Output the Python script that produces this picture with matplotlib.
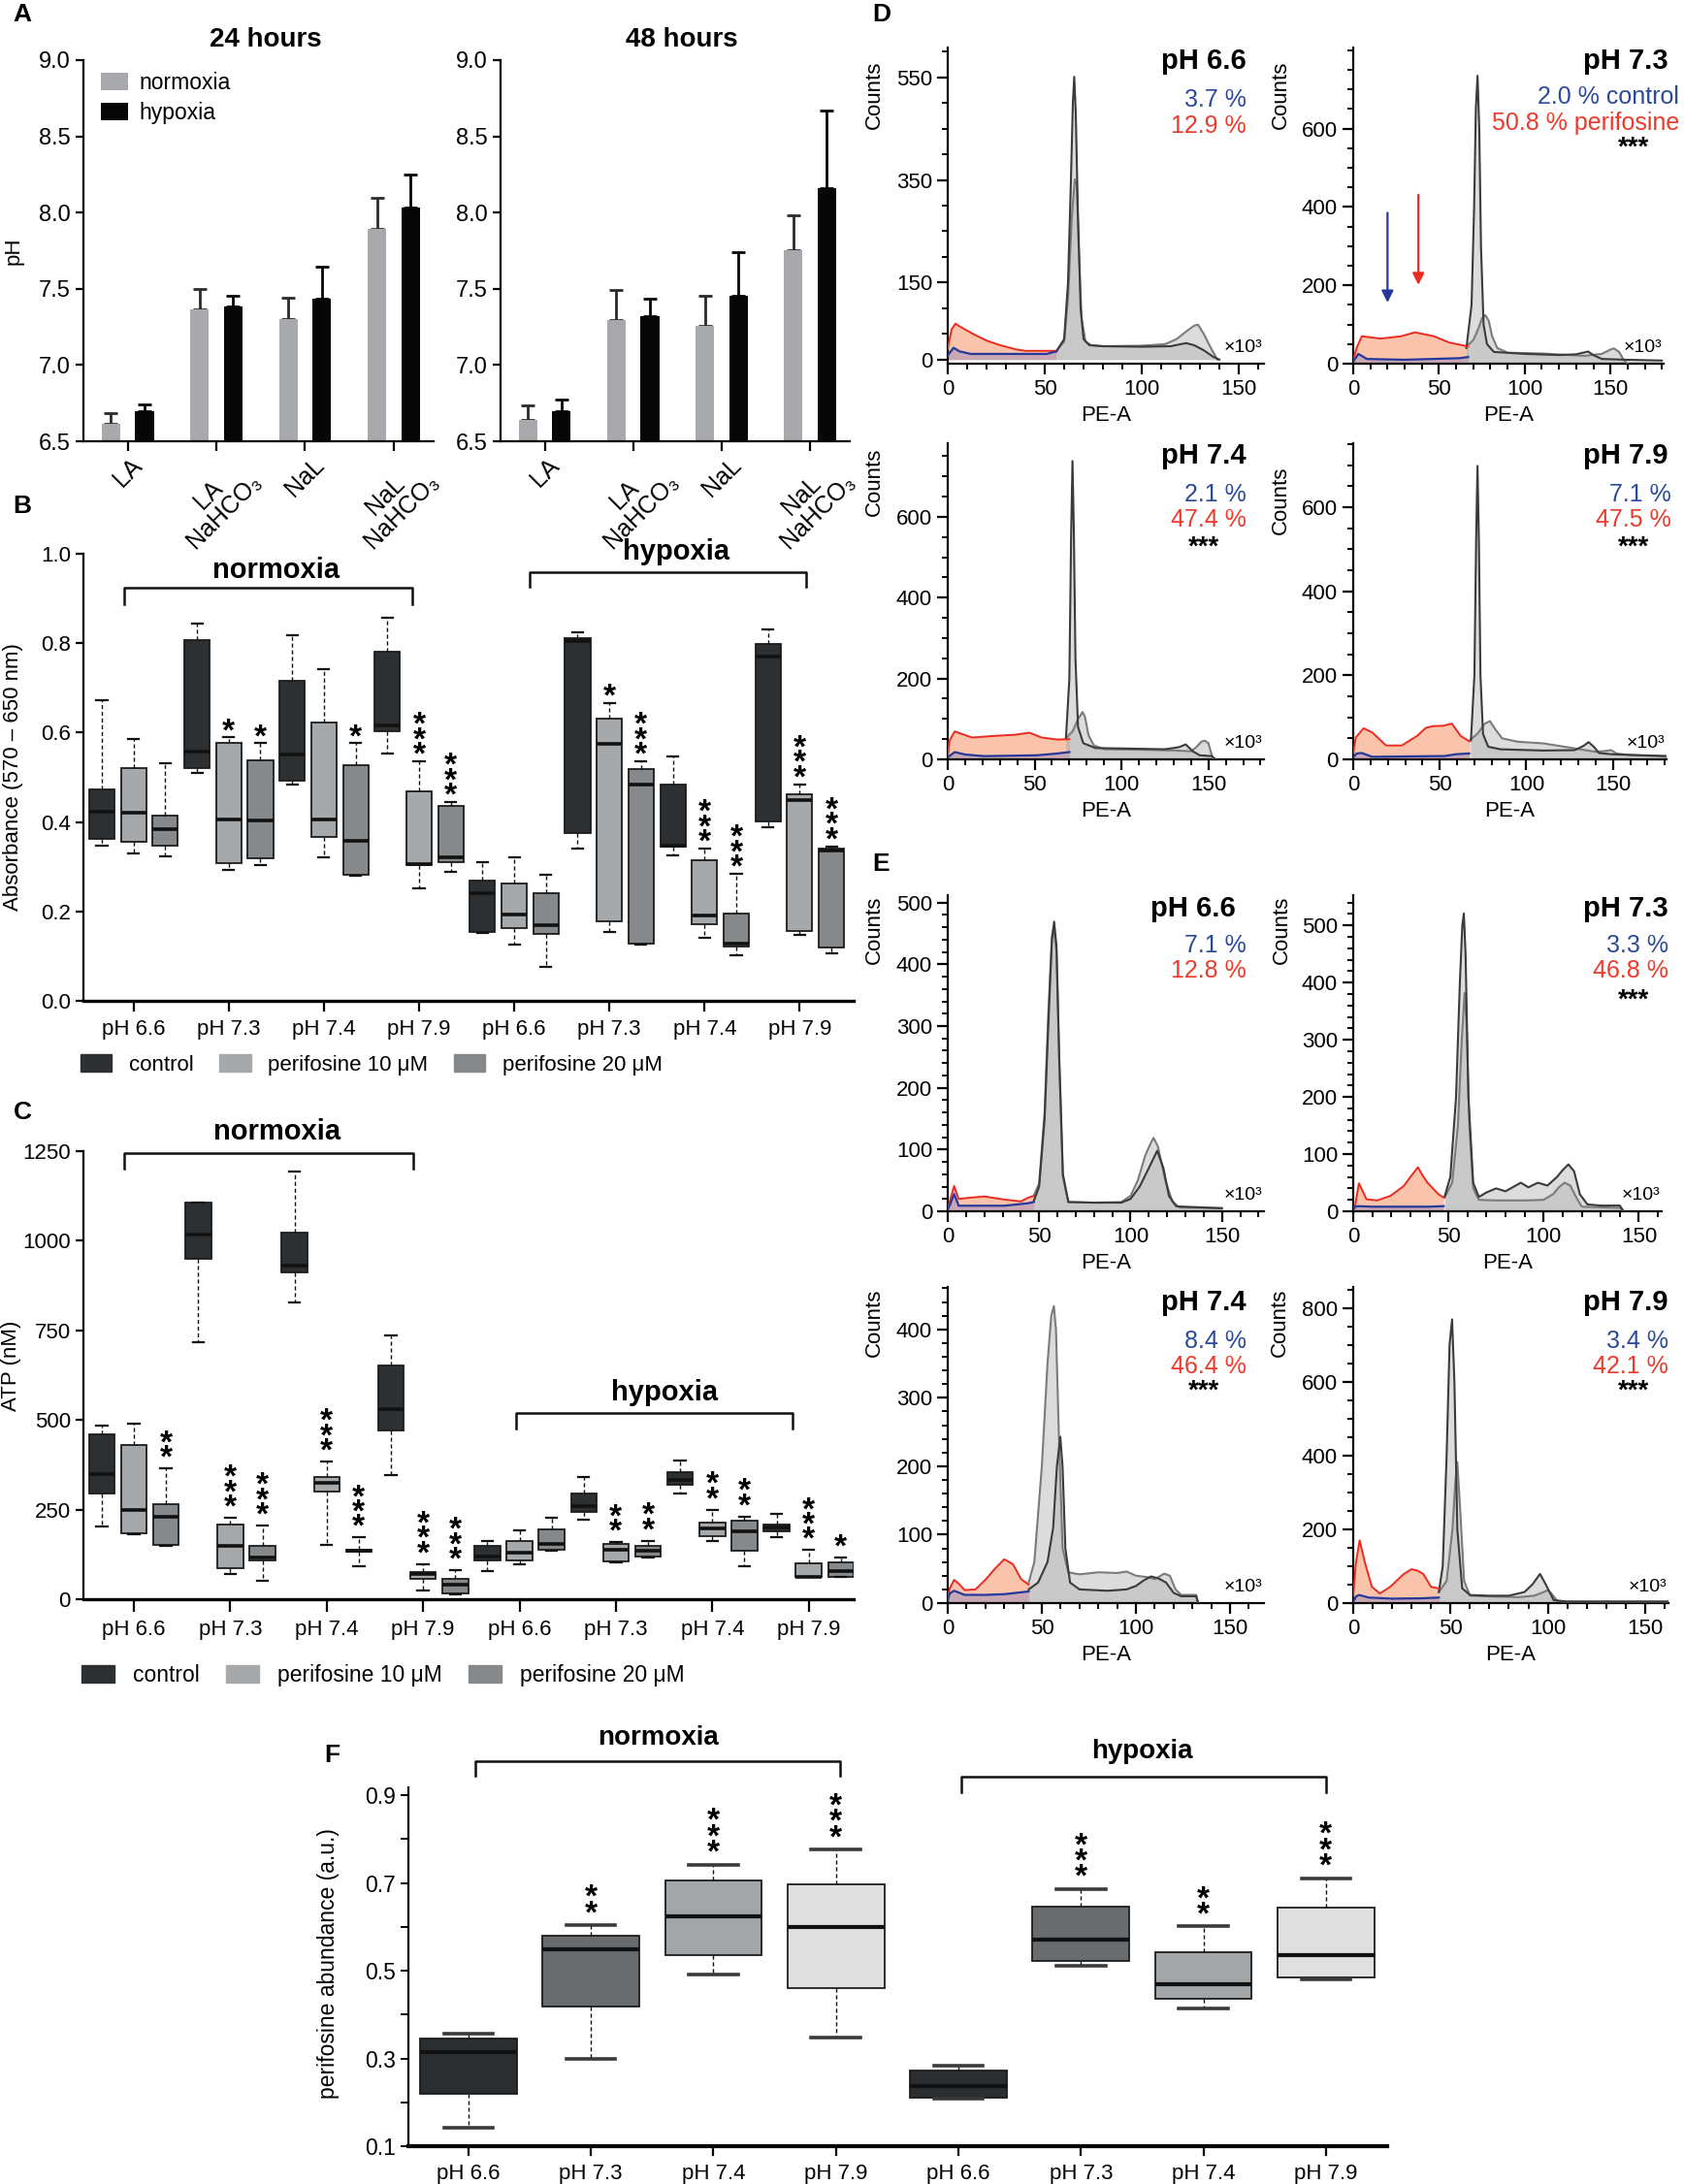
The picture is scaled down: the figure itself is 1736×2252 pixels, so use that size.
import matplotlib
matplotlib.use("Agg")
import matplotlib.pyplot as plt
from matplotlib.patches import Patch
from matplotlib.ticker import MultipleLocator, FormatStrFormatter
import numpy as np

plt.rcParams["font.family"] = ["Liberation Sans", "DejaVu Sans"]
plt.rcParams["font.size"] = 16
plt.rcParams["axes.linewidth"] = 1.6
plt.rcParams["xtick.major.width"] = 1.6
plt.rcParams["ytick.major.width"] = 1.6

W, H = 1736, 2252

# ---------------- panel A : medium pH ----------------
a_groups = ["LA", "LA\nNaHCO₃", "NaL", "NaL\nNaHCO₃"]
a24_norm = [6.614, 7.362, 7.300, 7.890]
a24_norm_err = [0.072, 0.136, 0.139, 0.206]
a24_hyp = [6.697, 7.384, 7.436, 8.035]
a24_hyp_err = [0.046, 0.072, 0.209, 0.215]
a48_norm = [6.643, 7.296, 7.257, 7.752]
a48_norm_err = [0.094, 0.195, 0.195, 0.228]
a48_hyp = [6.700, 7.322, 7.452, 8.162]
a48_hyp_err = [0.075, 0.112, 0.291, 0.505]

# ---------------- panel B : absorbance ----------------
ph_labels = ["pH 6.6", "pH 7.3", "pH 7.4", "pH 7.9"] * 2
treatments = ["control", "perifosine 10 μM", "perifosine 20 μM"]
b_whishi = [0.673, 0.585, 0.531, 0.843, 0.589, 0.576, 0.818, 0.742, 0.576, 0.856, 0.535, 0.444,
            0.310, 0.322, 0.283, 0.825, 0.667, 0.535, 0.546, 0.340, 0.284, 0.831, 0.484, 0.345]
b_q3 = [0.472, 0.520, 0.415, 0.807, 0.576, 0.539, 0.716, 0.622, 0.527, 0.780, 0.469, 0.436,
        0.270, 0.262, 0.240, 0.812, 0.632, 0.518, 0.483, 0.314, 0.196, 0.798, 0.461, 0.340]
b_med = [0.423, 0.420, 0.384, 0.558, 0.405, 0.403, 0.551, 0.406, 0.359, 0.616, 0.305, 0.322,
         0.240, 0.192, 0.169, 0.805, 0.574, 0.484, 0.348, 0.190, 0.127, 0.771, 0.450, 0.337]
b_q1 = [0.363, 0.355, 0.347, 0.520, 0.307, 0.318, 0.492, 0.367, 0.283, 0.602, 0.304, 0.311,
        0.154, 0.163, 0.149, 0.375, 0.177, 0.129, 0.344, 0.171, 0.122, 0.401, 0.157, 0.119]
b_whislo = [0.346, 0.329, 0.323, 0.509, 0.292, 0.304, 0.483, 0.322, 0.279, 0.554, 0.251, 0.289,
            0.151, 0.125, 0.076, 0.340, 0.155, 0.126, 0.326, 0.141, 0.101, 0.388, 0.147, 0.107]
b_stars = [0, 0, 0, 0, 1, 1, 0, 0, 1, 0, 3, 3, 0, 0, 0, 0, 1, 3, 0, 3, 3, 0, 3, 3]

# ---------------- panel C : ATP ----------------
c_whishi = [484, 491, 365, 1107, 227, 205, 1192, 384, 172, 737, 98, 81,
            161, 191, 228, 341, 159, 163, 386, 250, 231, 237, 137, 116]
c_q3 = [459, 431, 265, 1107, 207, 150, 1024, 342, 138, 652, 76, 56,
        148, 163, 194, 295, 153, 150, 355, 215, 218, 208, 101, 103]
c_med = [350, 248, 231, 1016, 150, 117, 930, 324, 135, 531, 69, 40,
         118, 129, 154, 259, 139, 134, 332, 197, 190, 200, 63, 79]
c_q1 = [295, 185, 151, 951, 87, 109, 913, 299, 132, 472, 56, 15,
        108, 108, 139, 243, 105, 119, 320, 175, 135, 189, 62, 63]
c_whislo = [203, 182, 149, 716, 70, 52, 829, 151, 93, 346, 25, 13,
            78, 97, 136, 221, 103, 115, 295, 163, 92, 172, 62, 63]
c_stars = [0, 0, 2, 0, 3, 3, 0, 3, 3, 0, 3, 3, 0, 0, 0, 0, 2, 2, 0, 2, 2, 0, 3, 1]

# ---------------- panel F : perifosine abundance ----------------
f_whishi = [0.357, 0.604, 0.742, 0.776, 0.283, 0.686, 0.601, 0.711]
f_q3 = [0.345, 0.579, 0.706, 0.698, 0.273, 0.645, 0.542, 0.644]
f_med = [0.314, 0.548, 0.625, 0.599, 0.237, 0.572, 0.470, 0.535]
f_q1 = [0.220, 0.419, 0.536, 0.461, 0.210, 0.523, 0.436, 0.484]
f_whislo = [0.141, 0.298, 0.491, 0.348, 0.209, 0.511, 0.415, 0.481]
f_stars = [0, 2, 3, 3, 0, 3, 2, 3]

# ---------------- panels D / E : cell cycle histograms (PE-A x10^3, counts) ----------------
d66_red = ([0, 2, 4, 6, 13, 20, 27, 35, 40, 56], [22, 59, 70, 65, 50, 37, 28, 20, 17, 17])
d66_blue = ([0, 3, 6, 12, 51, 56], [8, 23, 16, 11, 11, 16])
d66_ctrl = ([56, 60, 62, 63.5, 64.5, 65.2, 66, 67, 68.5, 70, 73, 80, 100, 115, 120, 123, 127, 132, 137, 140],
            [16, 40, 150, 350, 500, 551, 480, 300, 100, 40, 28, 26, 25, 26, 30, 32, 28, 18, 5, 0])
d66_peri = ([56, 60, 62, 64, 65.5, 66.5, 67.5, 69, 71, 74, 80, 100, 112, 118, 123, 127, 129, 132, 136, 139],
            [17, 35, 120, 280, 351, 340, 220, 80, 35, 28, 26, 27, 30, 40, 55, 66, 68, 50, 20, 0])

d73_red = ([0, 2, 5, 16, 28, 36, 47, 56, 67], [10, 40, 70, 64, 70, 80, 70, 54, 44])
d73_blue = ([0, 3, 8, 30, 62, 67], [5, 25, 12, 10, 14, 17])
d73_ctrl = ([66, 69, 70.5, 71.5, 72.5, 73.5, 74.5, 76, 78, 82, 100, 120, 130, 134, 137, 140, 145, 160, 180],
            [40, 150, 400, 650, 735, 600, 300, 100, 50, 30, 25, 22, 24, 28, 31, 22, 12, 10, 8])
d73_peri = ([66, 70, 73, 75, 77, 79, 81, 84, 90, 110, 135, 145, 150, 152, 155, 158, 160],
            [44, 60, 90, 115, 124, 110, 70, 40, 28, 26, 20, 25, 36, 39, 30, 8, 0])

d74_red = ([0, 1, 4, 14, 27, 39, 47, 54, 63, 70], [10, 46, 69, 54, 58, 61, 66, 54, 49, 50])
d74_blue = ([0, 4, 10, 21, 51, 62, 70], [5, 18, 12, 8, 10, 14, 18])
d74_ctrl = ([68, 70, 71, 71.8, 72.6, 73.5, 75, 78, 85, 100, 125, 133, 137, 141, 145, 152, 154],
            [50, 200, 550, 738, 560, 250, 80, 40, 28, 27, 25, 30, 37, 20, 10, 8, 0])
d74_peri = ([68, 72, 75, 77.6, 79, 81, 84, 90, 110, 130, 140, 143, 146, 148, 150, 152, 153],
            [52, 70, 100, 117, 105, 60, 35, 25, 24, 22, 20, 30, 44, 46, 40, 10, 0])

d79_red = ([0, 1.5, 6, 11, 19, 28, 37, 42, 46, 52, 57, 62, 67], [15, 52, 74, 64, 33, 33, 56, 75, 79, 80, 85, 56, 43])
d79_blue = ([0, 2, 5, 11, 53, 59, 67], [5, 14, 15, 6, 8, 12, 14])
d79_ctrl = ([68, 70, 71, 71.8, 72.6, 73.5, 75, 78, 85, 110, 128, 133, 136, 139, 142, 150, 165, 181],
            [45, 200, 520, 698, 520, 200, 60, 30, 24, 21, 22, 32, 41, 30, 15, 12, 10, 8])
d79_peri = ([67, 72, 76, 79, 82, 86, 95, 110, 125, 140, 146, 149, 152, 160, 175, 181],
            [44, 62, 85, 91, 72, 50, 42, 38, 28, 18, 20, 22, 14, 10, 8, 6])

e66_red = ([0, 1, 3.5, 6, 12, 20, 31, 40, 44, 47], [5, 15, 41, 20, 22, 24, 19, 16, 22, 25])
e66_blue = ([0, 1, 3.5, 6, 31, 44, 47], [3, 9, 28, 9, 9, 13, 15])
e66_ctrl = ([47, 50, 53, 55, 57, 58.2, 59.5, 61, 63, 66, 80, 95, 100, 105, 110, 114.6, 118, 121, 125, 150],
            [16, 40, 150, 300, 440, 469, 430, 250, 60, 15, 14, 14, 20, 40, 70, 98, 70, 25, 8, 5])
e66_peri = ([47, 50, 53, 55, 57, 58, 59.5, 61, 63, 66, 80, 95, 100, 104, 108, 111, 112.6, 115, 119, 123, 127, 150],
            [25, 45, 160, 320, 445, 460, 420, 240, 55, 15, 14, 15, 25, 50, 90, 110, 119, 105, 50, 15, 6, 5])

e73_red = ([0, 1, 3, 7, 12.6, 19.6, 26.5, 30, 34, 36, 39, 44.7, 47.5], [5, 10, 49, 21, 19, 27, 44, 60, 77, 65, 50, 30, 24])
e73_blue = ([0, 1, 3, 10, 40, 47.5], [3, 8, 9, 8, 8, 9])
e73_ctrl = ([48, 51, 54, 56, 57.3, 58.1, 59, 60.5, 63, 66, 70, 75, 80, 88, 92, 97, 102, 107, 110, 113, 116, 119, 123, 130, 140, 142],
            [26, 60, 200, 400, 500, 521, 450, 200, 50, 25, 33, 40, 35, 50, 42, 50, 45, 60, 72, 82, 70, 30, 12, 10, 10, 0])
e73_peri = ([48, 52, 55, 57, 58.5, 59.5, 61, 63, 66, 75, 90, 100, 105, 108, 111, 114, 117, 120, 130, 140, 142],
            [24, 50, 150, 300, 382, 330, 150, 40, 20, 19, 19, 20, 30, 42, 50, 45, 25, 8, 7, 6, 0])

e74_red = ([0, 1, 3.4, 6, 9, 14.7, 20, 25, 30, 34.6, 39, 43], [8, 21, 34, 28, 19, 20, 34, 50, 64, 57, 35, 27])
e74_blue = ([0, 1, 3.4, 9, 20, 30, 43], [4, 14, 18, 12, 12, 13, 17])
e74_ctrl = ([43, 48, 53, 56, 58, 59.8, 61, 62.5, 65, 70, 85, 95, 100, 104, 108, 112, 116, 120, 124, 132, 133],
            [20, 30, 60, 110, 200, 243, 200, 80, 30, 20, 18, 20, 25, 33, 39, 36, 30, 15, 10, 10, 0])
e74_peri = ([43, 46, 50, 53, 55, 56.4, 57.5, 59, 61, 64, 70, 80, 90, 95, 100, 106, 110, 115, 118, 121, 124, 132, 133],
            [30, 60, 200, 350, 420, 434, 400, 250, 80, 45, 42, 45, 44, 46, 40, 38, 35, 43, 40, 20, 12, 12, 0])

e79_red = ([0, 1.4, 3.3, 6, 9.6, 13.7, 19, 26, 30, 33, 36, 40, 44], [20, 110, 170, 110, 44, 26, 44, 79, 92, 88, 79, 44, 40])
e79_blue = ([0, 1.5, 3, 8, 20, 35, 44], [4, 18, 22, 15, 12, 13, 15])
e79_ctrl = ([44, 46, 48, 49.5, 50.8, 52, 53.5, 56, 60, 70, 80, 88, 92, 96, 99, 103, 110, 162],
            [30, 100, 400, 700, 769, 600, 200, 40, 22, 20, 20, 30, 50, 79, 50, 8, 4, 4])
e79_peri = ([44, 48, 51, 52.5, 53.5, 55, 57, 60, 70, 85, 93, 97, 100, 102, 105, 110, 162],
            [30, 60, 200, 330, 382, 250, 60, 20, 18, 16, 20, 28, 35, 25, 5, 4, 4])

hist_titles = ["pH 6.6", "pH 7.3", "pH 7.4", "pH 7.9"]
d_ctrl_pct = ["3.7 %", "2.0 % control", "2.1 %", "7.1 %"]
d_peri_pct = ["12.9 %", "50.8 % perifosine", "47.4 %", "47.5 %"]
e_ctrl_pct = ["7.1 %", "3.3 %", "8.4 %", "3.4 %"]
e_peri_pct = ["12.8 %", "46.8 %", "46.4 %", "42.1 %"]
hist_sig = ["", "***", "***", "***"]
arrow_x = [20, 38]
arrow_top = [392, 438]
arrow_tip = [149, 194]

# ---------------- colours ----------------
NORM_C, HYP_C = "#a7a9ac", "#060606"
TREAT_C = ["#2d3032", "#a6a9ac", "#86898b"]
F_C = ["#2b2e30", "#696c6e", "#a3a6a8", "#e0e0e0"]
BLUE_T, RED_T = "#2c4a9a", "#ec3a2b"

fig = plt.figure(figsize=(W / 100, H / 100), dpi=100)
fig.patch.set_facecolor("white")


def px_axes(x0, y0, x1, y1):
    return fig.add_axes([x0 / W, 1 - y1 / H, (x1 - x0) / W, (y1 - y0) / H])


def clean(ax):
    ax.spines["top"].set_visible(False)
    ax.spines["right"].set_visible(False)


def add_stars(ax, xs, tops, counts, gap, spacing, fs):
    # one text per stack: stars piled vertically above the upper whisker
    for x, top, n in zip(xs, tops, counts):
        if n == 0:
            continue
        ax.annotate("\n".join(["*"] * n), (x, top), xytext=(0, gap - 0.79 * fs),
                    textcoords="offset points", ha="center", va="bottom",
                    fontsize=fs, fontweight="bold", linespacing=spacing,
                    annotation_clip=False)


def bracket(ax, x0, x1, y, ytip, label, ylab, xlab, fs=21):
    ax.plot([x0, x0, x1, x1], [ytip, y, y, ytip], color="#111111", lw=1.8, clip_on=False)
    ax.text(xlab, ylab, label, ha="center", va="center", fontsize=fs, fontweight="bold")


# ---------------- draw A ----------------
def bar_panel(ax, norm, norm_err, hyp, hyp_err, title, legend):
    x = np.arange(len(a_groups))
    ax.bar(x - 0.19, norm, 0.21, color=NORM_C, label="normoxia", zorder=2)
    ax.bar(x + 0.19, hyp, 0.21, color=HYP_C, label="hypoxia", zorder=2)
    z = np.zeros(len(x))
    ax.errorbar(x - 0.19, norm, yerr=[z, norm_err], fmt="none", ecolor="#2a2a2a",
                elinewidth=2, capsize=5, capthick=2, zorder=1)
    ax.errorbar(x + 0.19, hyp, yerr=[z, hyp_err], fmt="none", ecolor="#060606",
                elinewidth=2, capsize=5, capthick=2, zorder=1)
    ax.set_ylim(6.5, 9.0)
    ax.set_xlim(-0.5, 3.45)
    ax.set_yticks(np.arange(6.5, 9.01, 0.5))
    ax.yaxis.set_major_formatter(FormatStrFormatter("%.1f"))
    ax.set_xticks(x)
    ax.set_xticklabels(a_groups, rotation=45, ha="center", multialignment="center",
                       fontsize=18, linespacing=1.0)
    ax.tick_params(axis="x", length=7, pad=2)
    ax.tick_params(axis="y", length=6, labelsize=17)
    clean(ax)
    ax.text(0.52, 1.053, title, transform=ax.transAxes, ha="center", va="center",
            fontsize=20, fontweight="bold")
    if legend:
        ax.legend(loc="upper left", bbox_to_anchor=(0.05, 0.97), frameon=False,
                  handlelength=1.2, handleheight=0.8, handletextpad=0.5,
                  labelspacing=0.35, fontsize=16.5, borderaxespad=0, borderpad=0)


ax_a1 = px_axes(86, 62, 447, 455)
bar_panel(ax_a1, a24_norm, a24_norm_err, a24_hyp, a24_hyp_err, "24 hours", True)
ax_a1.set_ylabel("pH", fontsize=16)
ax_a1.yaxis.set_label_coords(-0.17, 0.5)
ax_a2 = px_axes(516, 62, 876, 455)
bar_panel(ax_a2, a48_norm, a48_norm_err, a48_hyp, a48_hyp_err, "48 hours", False)


# ---------------- draw B / C ----------------
def box_panel(ax, whislo, q1, med, q3, whishi, colors, width=0.8, capw=0.34,
              capc="#111111", capl=1.6, medl=2.6):
    stats = [dict(whislo=a, q1=b, med=c, q3=d, whishi=e)
             for a, b, c, d, e in zip(whislo, q1, med, q3, whishi)]
    bp = ax.bxp(stats, positions=np.arange(len(stats)), widths=width, showfliers=False,
                patch_artist=True, manage_ticks=False, capwidths=capw,
                boxprops=dict(edgecolor="#1c1c1c", linewidth=1.3),
                medianprops=dict(color="#111111", linewidth=medl),
                whiskerprops=dict(color="#111111", linewidth=1.0, linestyle=(0, (3, 2))),
                capprops=dict(color=capc, linewidth=capl))
    for patch, c in zip(bp["boxes"], colors):
        patch.set_facecolor(c)
    clean(ax)
    ax.spines["bottom"].set_linewidth(2.4)


box_colors = TREAT_C * 8
tick_pos = [1, 4, 7, 10, 13, 16, 19, 22]

ax_b = px_axes(86, 571, 880, 1032)
box_panel(ax_b, b_whislo, b_q1, b_med, b_q3, b_whishi, box_colors)
ax_b.set_xlim(-0.58, 23.7)
ax_b.set_ylim(0, 1.0)
ax_b.set_yticks(np.arange(0, 1.01, 0.2))
ax_b.yaxis.set_major_formatter(FormatStrFormatter("%.1f"))
ax_b.set_xticks(tick_pos)
ax_b.set_xticklabels(ph_labels, fontsize=16)
ax_b.tick_params(axis="x", length=8, pad=6)
ax_b.tick_params(axis="y", length=6, labelsize=16)
ax_b.set_ylabel("Absorbance (570 – 650 nm)", fontsize=16)
ax_b.yaxis.set_label_coords(-0.078, 0.5)
add_stars(ax_b, np.arange(24), b_whishi, b_stars, gap=12, spacing=0.36, fs=24)
bracket(ax_b, 0.7, 9.8, 0.924, 0.888, "normoxia", 0.963, 5.5)
bracket(ax_b, 13.5, 22.2, 0.959, 0.927, "hypoxia", 1.004, 18.1)
ax_b.legend([Patch(facecolor=c, edgecolor=c) for c in TREAT_C], treatments,
            loc="upper left", bbox_to_anchor=(83 / W, 1 - 1087 / H), bbox_transform=fig.transFigure,
            ncol=3, frameon=False, handlelength=1.45, handleheight=0.85, handletextpad=0.8,
            columnspacing=1.2, fontsize=16, borderaxespad=0, borderpad=0)

ax_c = px_axes(86, 1187, 880, 1649)
box_panel(ax_c, c_whislo, c_q1, c_med, c_q3, c_whishi, box_colors)
ax_c.set_xlim(-0.57, 23.4)
ax_c.set_ylim(0, 1250)
ax_c.set_yticks(np.arange(0, 1251, 250))
ax_c.set_xticks(tick_pos)
ax_c.set_xticklabels(ph_labels, fontsize=16)
ax_c.tick_params(axis="x", length=9, pad=6)
ax_c.tick_params(axis="y", length=6, labelsize=16)
ax_c.set_ylabel("ATP (nM)", fontsize=16)
ax_c.yaxis.set_label_coords(-0.08, 0.52)
add_stars(ax_c, np.arange(24), c_whishi, c_stars, gap=15, spacing=0.35, fs=24)
bracket(ax_c, 0.7, 9.7, 1245, 1202, "normoxia", 1304, 5.45)
bracket(ax_c, 12.9, 21.5, 519, 476, "hypoxia", 575, 17.5)
ax_c.legend([Patch(facecolor=c, edgecolor=c) for c in TREAT_C], treatments,
            loc="upper left", bbox_to_anchor=(84 / W, 1 - 1716 / H), bbox_transform=fig.transFigure,
            ncol=3, frameon=False, handlelength=1.5, handleheight=0.85, handletextpad=0.8,
            columnspacing=1.2, fontsize=16.5, borderaxespad=0, borderpad=0)

# ---------------- draw F ----------------
ax_f = px_axes(421, 1843, 1430, 2213)
box_panel(ax_f, f_whislo, f_q1, f_med, f_q3, f_whishi, F_C * 2, width=0.79, capw=0.4,
          capc="#3a3a3a", capl=2.6, medl=3.0)
ax_f.set_xlim(-0.49, 7.5)
ax_f.set_ylim(0.1, 0.918)
ax_f.set_yticks([0.1, 0.3, 0.5, 0.7, 0.9])
ax_f.yaxis.set_minor_locator(MultipleLocator(0.1))
ax_f.yaxis.set_major_formatter(FormatStrFormatter("%.1f"))
ax_f.set_xticks(np.arange(8))
ax_f.set_xticklabels(ph_labels, fontsize=16)
ax_f.tick_params(axis="x", length=7, pad=6)
ax_f.tick_params(axis="y", which="both", length=6, width=1.4, labelsize=16.5)
ax_f.spines["bottom"].set_linewidth(3)
ax_f.set_ylabel("perifosine abundance (a.u.)", fontsize=16.5)
ax_f.yaxis.set_label_coords(-0.07, 0.51)
add_stars(ax_f, np.arange(8), f_whishi, f_stars, gap=16, spacing=0.39, fs=24)
bracket(ax_f, 0.06, 3.03, 0.978, 0.944, "normoxia", 1.031, 1.55, fs=20)
bracket(ax_f, 4.02, 7.0, 0.942, 0.907, "hypoxia", 1.0, 5.5, fs=20)


# ---------------- draw D / E ----------------
def hist_panel(rect, red, blue, ctrl, peri, ylim, yticks, yminor, xmax, title, pc, pp, sig,
               tx, ty, px, cy, py, sx, sy, lab_y):
    ax = px_axes(*rect)
    ax.fill_between(red[0], red[1], color="#f9c4ab", lw=0, zorder=1)
    ax.fill_between(blue[0], blue[1], color="#8f86c4", alpha=0.45, lw=0, zorder=2)
    ax.fill_between(peri[0], peri[1], color="#b2b2b2", alpha=0.45, lw=0, zorder=2)
    ax.fill_between(ctrl[0], ctrl[1], color="#b2b2b2", alpha=0.45, lw=0, zorder=2)
    ax.plot(red[0], red[1], color="#ec2a1f", lw=1.4, zorder=4)
    ax.plot(blue[0], blue[1], color="#26399b", lw=1.6, zorder=5)
    ax.plot(peri[0], peri[1], color="#7b7b7b", lw=1.5, zorder=3)
    ax.plot(ctrl[0], ctrl[1], color="#3b3b3b", lw=1.5, zorder=3)
    ax.set_xlim(0, xmax)
    ax.set_ylim(*ylim)
    ax.set_xticks([0, 50, 100, 150])
    ax.xaxis.set_minor_locator(MultipleLocator(10))
    ax.set_yticks(yticks)
    ax.yaxis.set_minor_locator(MultipleLocator(yminor))
    ax.tick_params(which="major", length=8, width=1.6, labelsize=16)
    ax.tick_params(which="minor", length=4.5, width=1.4)
    clean(ax)
    ax.set_xlabel("PE-A", fontsize=16, labelpad=4)
    ax.set_ylabel("Counts", fontsize=16)
    ax.yaxis.set_label_coords(-0.2, lab_y)
    ax.text(tx, ty, title, transform=ax.transAxes, ha="right", va="center",
            fontsize=21, fontweight="bold")
    ax.text(px, cy, pc, transform=ax.transAxes, ha="right", va="center", fontsize=18, color=BLUE_T)
    ax.text(px, py, pp, transform=ax.transAxes, ha="right", va="center", fontsize=18, color=RED_T)
    if sig:
        ax.text(sx, sy, sig, transform=ax.transAxes, ha="center", va="center",
                fontsize=20, fontweight="bold")
    ax.text(0.995, 0.025, "×10³", transform=ax.transAxes, ha="right", va="bottom", fontsize=14)
    return ax


ax_d1 = hist_panel((977, 49, 1303, 375), d66_red, d66_blue, d66_ctrl, d66_peri, (-8, 608),
                   [0, 150, 350, 550], 50, 163, hist_titles[0], d_ctrl_pct[0], d_peri_pct[0], "",
                   0.945, 0.957, 0.945, 0.834, 0.752, 0.81, 0.67, 0.85)
ax_d2 = hist_panel((1395, 49, 1715, 375), d73_red, d73_blue, d73_ctrl, d73_peri, (0, 807),
                   [0, 200, 400, 600], 50, 181, hist_titles[1], d_ctrl_pct[1], d_peri_pct[1], hist_sig[1],
                   1.016, 0.957, 1.05, 0.843, 0.761, 0.903, 0.681, 0.85)
for x, top, tip, c in zip(arrow_x, arrow_top, arrow_tip, ["#26399b", "#ec2a1f"]):
    ax_d2.annotate("", xy=(x, tip), xytext=(x, top),
                   arrowprops=dict(arrowstyle="-|>", color=c, lw=1.6, mutation_scale=18))
ax_d3 = hist_panel((977, 457, 1303, 783), d74_red, d74_blue, d74_ctrl, d74_peri, (0, 782),
                   [0, 200, 400, 600], 50, 182, hist_titles[2], d_ctrl_pct[2], d_peri_pct[2], hist_sig[2],
                   0.945, 0.96, 0.945, 0.837, 0.758, 0.81, 0.669, 0.877)
ax_d4 = hist_panel((1395, 457, 1718, 783), d79_red, d79_blue, d79_ctrl, d79_peri, (0, 752),
                   [0, 200, 400, 600], 50, 181, hist_titles[3], d_ctrl_pct[3], d_peri_pct[3], hist_sig[3],
                   1.006, 0.96, 1.015, 0.837, 0.758, 0.895, 0.669, 0.82)
ax_e1 = hist_panel((977, 923, 1303, 1249), e66_red, e66_blue, e66_ctrl, e66_peri, (0, 512),
                   [0, 100, 200, 300, 400, 500], 20, 173, hist_titles[0], e_ctrl_pct[0], e_peri_pct[0], "",
                   0.91, 0.957, 0.945, 0.84, 0.76, 0.81, 0.67, 0.89)
ax_e2 = hist_panel((1395, 923, 1713, 1249), e73_red, e73_blue, e73_ctrl, e73_peri, (0, 553),
                   [0, 100, 200, 300, 400, 500], 20, 162, hist_titles[1], e_ctrl_pct[1], e_peri_pct[1], hist_sig[1],
                   1.022, 0.957, 1.022, 0.84, 0.76, 0.909, 0.666, 0.89)
ax_e3 = hist_panel((977, 1327, 1303, 1653), e74_red, e74_blue, e74_ctrl, e74_peri, (0, 462),
                   [0, 100, 200, 300, 400], 20, 168, hist_titles[2], e_ctrl_pct[2], e_peri_pct[2], hist_sig[2],
                   0.945, 0.951, 0.945, 0.828, 0.748, 0.81, 0.669, 0.887)
ax_e4 = hist_panel((1395, 1327, 1720, 1653), e79_red, e79_blue, e79_ctrl, e79_peri, (0, 857),
                   [0, 200, 400, 600, 800], 50, 162, hist_titles[3], e_ctrl_pct[3], e_peri_pct[3], hist_sig[3],
                   1.0, 0.951, 1.0, 0.828, 0.748, 0.889, 0.669, 0.887)

# ---------------- panel letters ----------------
for letter, (lx, ly) in zip("ABCDEF", [(23, 15), (23, 522), (23, 1147), (909, 15), (908, 891), (342, 1810)]):
    fig.text(lx / W, 1 - ly / H, letter, ha="center", va="center", fontsize=19, fontweight="bold")

fig.savefig("out.png", dpi=100, facecolor="white")
